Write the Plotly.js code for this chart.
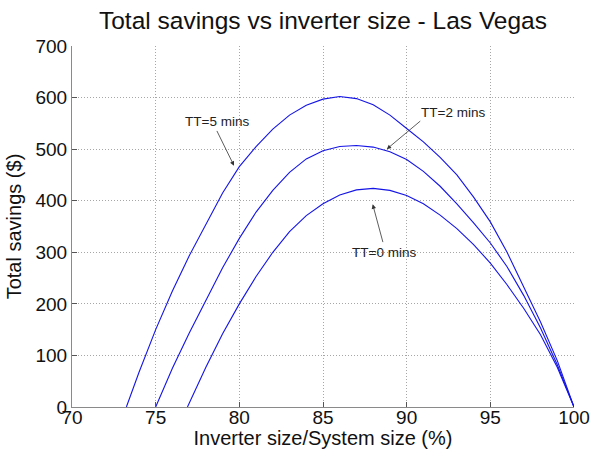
<!DOCTYPE html>
<html>
<head>
<meta charset="utf-8">
<script src="https://cdn.plot.ly/plotly-3.0.1.min.js"></script>
<style>
  html, body { margin: 0; padding: 0; background: #ffffff; }
  #chart { width: 595px; height: 449px; }
</style>
</head>
<body>
<div id="chart"></div>
<script>
// Inverter size as a percentage of system size, one x list per travel time
const xTT0 = [76.9, 78, 79, 80, 81, 82, 83, 84, 85, 86, 87, 88, 89, 90, 91, 92, 93, 94, 95, 96, 97, 98, 99, 100];
const yTT0 = [0, 77, 142, 200, 253, 300, 340, 371, 394, 411, 421, 424, 420, 410, 394, 372, 346, 315, 279, 237, 191, 140, 77, 0];

const xTT2 = [75, 76, 77, 78, 79, 80, 81, 82, 83, 84, 85, 86, 87, 88, 89, 90, 91, 92, 93, 94, 95, 96, 97, 98, 99, 100];
const yTT2 = [0, 75, 143, 208, 270, 327, 378, 420, 455, 481, 497, 505, 507, 504, 495, 480, 457, 428, 394, 357, 318, 272, 216, 153, 82, 0];

const xTT5 = [73.25, 74, 75, 76, 77, 78, 79, 80, 81, 82, 83, 84, 85, 86, 87, 88, 89, 90, 91, 92, 93, 94, 95, 96, 97, 98, 99, 100];
const yTT5 = [0, 67, 150, 225, 293, 355, 415, 466, 505, 539, 566, 585, 597, 602, 598, 586, 566, 540, 514, 484, 450, 407, 359, 300, 232, 165, 90, 0];

// Curve labels: text position, arrow tip (data units) and arrow tail offset (px)
const labelText = ['TT=5 mins', 'TT=2 mins', 'TT=0 mins'];
const labelX = [78.67, 92.77, 88.65];
const labelY = [553, 571, 300];
const tipX = [79.68, 88.81, 87.97];
const tipY = [468, 500, 393];
const tailDX = [-17.8, 35, 10.6];
const tailDY = [-36.2, -29.3, 39.3];

const xTicks = [70, 75, 80, 85, 90, 95, 100];
const yTicks = [0, 100, 200, 300, 400, 500, 600, 700];

const lineStyle = { color: '#1414e6', width: 1.1 };
const font = 'Liberation Sans, Arial, Helvetica, sans-serif';

const traces = [
  { x: xTT0, y: yTT0, name: 'TT=0 mins', mode: 'lines', line: lineStyle },
  { x: xTT2, y: yTT2, name: 'TT=2 mins', mode: 'lines', line: lineStyle },
  { x: xTT5, y: yTT5, name: 'TT=5 mins', mode: 'lines', line: lineStyle }
];

const annotations = [];
labelText.forEach(function (t, i) {
  annotations.push({
    x: labelX[i], y: labelY[i], xref: 'x', yref: 'y',
    text: t, showarrow: false,
    font: { family: font, size: 13.5, color: '#222' }
  });
  annotations.push({
    x: tipX[i], y: tipY[i], xref: 'x', yref: 'y',
    text: '', showarrow: true,
    ax: tailDX[i], ay: tailDY[i],
    arrowhead: 2, arrowsize: 1.1, arrowwidth: 0.8, arrowcolor: '#333'
  });
});

const axisCommon = {
  showgrid: true,
  gridcolor: '#a6a6a6',
  griddash: '1px,2px',
  gridwidth: 1,
  zeroline: false,
  showline: true,
  linecolor: '#8a8a8a',
  linewidth: 1,
  mirror: false,
  ticks: 'inside',
  ticklen: 5,
  tickcolor: '#555',
  tickfont: { family: font, size: 19, color: '#111' }
};

const layout = {
  width: 595,
  height: 449,
  margin: { l: 72, r: 21, t: 46, b: 42, pad: 0 },
  paper_bgcolor: '#ffffff',
  plot_bgcolor: '#ffffff',
  showlegend: false,
  title: {
    text: 'Total savings vs inverter size - Las Vegas',
    font: { family: font, size: 24.5, color: '#111' },
    x: 0.5, xref: 'paper', xanchor: 'center',
    y: 1 - 20 / 449, yref: 'container', yanchor: 'middle'
  },
  xaxis: Object.assign({}, axisCommon, {
    range: [70, 100],
    tickvals: xTicks,
    ticktext: xTicks.map(String),
    ticklabelstandoff: -7,
    title: { text: 'Inverter size/System size (%)', font: { family: font, size: 20, color: '#111' }, standoff: 2 }
  }),
  yaxis: Object.assign({}, axisCommon, {
    range: [0, 700],
    tickvals: yTicks,
    ticktext: yTicks.map(String),
    title: { text: 'Total savings ($)', font: { family: font, size: 20, color: '#111' }, standoff: 8 }
  }),
  annotations: annotations
};

Plotly.newPlot('chart', traces, layout, { staticPlot: true, displayModeBar: false });
</script>
</body>
</html>
